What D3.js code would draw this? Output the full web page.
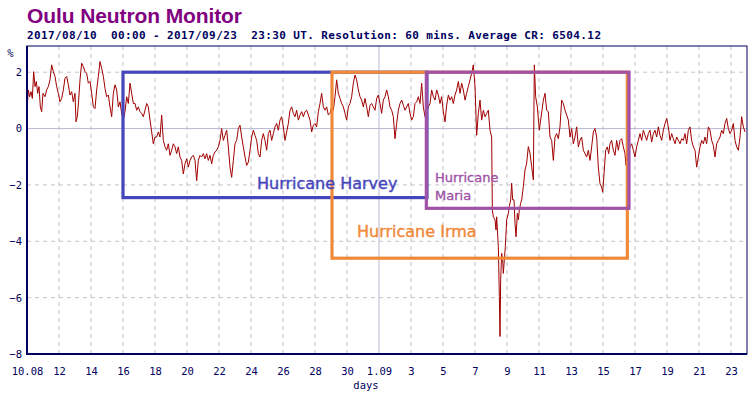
<!DOCTYPE html>
<html>
<head>
<meta charset="utf-8">
<script src="https://cdnjs.cloudflare.com/ajax/libs/d3/7.8.5/d3.min.js"></script>
<style>
  body { margin: 0; background: #fff; }
  svg { display: block; }
</style>
</head>
<body>
<div id="chart"></div>
<script>
// Oulu neutron monitor, relative CR variation (%), hours after 2017-08-10 00:00 UT
var crSeries = [
  [0,0.65],[2,1.37],[4,1.13],[6,1.31],[8,1.07],[10,2.02],[12,1.49],[14,1.67],[16,1.25],[18,1.49],
  [20,0.77],[22,0.6],[24,1.25],[27,1.13],[29.5,1.37],[32,1.49],[34.5,1.73],[37,2.26],[39.5,2.02],[42,1.85],
  [44.5,1.49],[47,1.25],[49.5,0.95],[52,1.07],[54.5,1.37],[57,1.79],[59.5,1.85],[62,1.55],[64.5,1.19],[67,1.31],
  [69.5,0.95],[72,1.25],[73.5,0.24],[75.5,0.42],[77.5,1.01],[79.5,1.73],[82,2.32],[84.5,2.2],[87,2.02],[89.5,1.96],
  [92,1.61],[94.5,1.67],[97,1.25],[99.5,0.77],[102,0.71],[104.5,1.37],[107,1.85],[109.5,2.38],[112,2.14],[114.5,1.85],
  [117,1.43],[119.5,1.13],[122,1.19],[124.5,0.77],[127,0.42],[129.5,1.25],[132,1.55],[134.5,1.37],[137,0.77],[139.5,0.95],
  [142,0.54],[144.5,0.3],[147,0.6],[149.5,1.13],[152,0.89],[154.5,1.61],[157,1.25],[159.5,0.89],[162,0.89],[164.5,0.65],
  [167,0.77],[169.5,0.6],[172,0.54],[174.5,0.42],[177,0.65],[179.5,0.89],[182,0.77],[184.5,0.3],[187,-0.12],[189.5,-0.54],
  [192,-0.3],[194.5,-0.3],[197,-0.12],[199.5,-0.3],[202,0.48],[204.5,-0.42],[207,-0.65],[209.5,-0.77],[212,-0.54],[214.5,-0.95],
  [217,-0.77],[219.5,-0.54],[222,-0.65],[224.5,-0.89],[227,-0.65],[229.5,-1.01],[232,-1.13],[234.5,-1.61],[237,-1.25],[239.5,-1.07],
  [242,-1.37],[244.5,-1.13],[247,-1.01],[249.5,-0.95],[252,-1.13],[254.5,-1.85],[257,-1.13],[259.5,-0.95],[262,-1.01],[264.5,-0.89],
  [267,-1.07],[269.5,-0.89],[272,-1.13],[274.5,-0.95],[277,-1.25],[279.5,-0.95],[282,-0.83],[284.5,-0.77],[287,-0.65],[289.5,-0.42],
  [292,0],[294.5,-0.42],[297,-0.24],[299.5,-0.06],[302,-0.65],[304.5,-1.37],[307,-1.73],[309.5,-1.13],[312,-0.54],[314.5,-0.42],
  [317,0],[319.5,0.12],[322,-0.3],[324.5,-0.65],[327,-1.01],[329.5,-1.31],[332,-1.19],[334.5,-0.77],[337,-0.3],[339.5,-0.06],
  [342,-0.24],[344.5,-0.42],[347,-0.89],[349.5,-1.01],[352,-0.42],[354.5,-0.18],[357,-0.42],[359.5,-0.77],[362,-0.18],[364.5,-0.06],
  [367,-0.42],[369.5,-0.18],[372,0.06],[374.5,0.18],[377,-0.06],[379.5,0.3],[382,0.42],[384.5,0.06],[387,-0.42],[389.5,-0.12],
  [392,0.18],[394.5,0.65],[397,0.77],[399.5,0.54],[402,0.42],[404.5,0.65],[407,0.3],[409.5,0.48],[412,0.6],[414.5,0.42],
  [417,0.6],[419.5,0.65],[422,0.48],[424.5,0.3],[427,-0.12],[429.5,0.12],[432,0.18],[434.5,0.06],[437,0.6],[439.5,0.89],
  [442,1.25],[444.5,0.77],[447,0.65],[449.5,0.77],[452,0.48],[454.5,0.54],[457,0.77],[459.5,0.65],[462,1.13],[464.5,1.73],
  [467,1.25],[469.5,1.07],[472,0.89],[474.5,0.77],[477,0.54],[479.5,0.3],[482,0.77],[484.5,0.89],[487,1.13],[489.5,1.61],
  [492,1.9],[494.5,1.73],[497,1.37],[499.5,1.13],[502,1.01],[504.5,0.77],[507,1.07],[509.5,0.77],[512,0.42],[514.5,0.83],
  [517,0.89],[519.5,0.77],[522,0.65],[524.5,1.07],[527,1.19],[529.5,0.89],[532,0.54],[534.5,1.01],[537,1.13],[539.5,1.37],
  [542,1.13],[544.5,0.77],[547,0.65],[549.5,0.42],[552,-0.36],[554.5,0.18],[557,0.65],[559.5,0.89],[562,1.01],[564.5,0.83],
  [567,0.65],[569.5,0.77],[572,0.89],[574.5,0.54],[577,0.3],[579.5,0.42],[582,0.89],[584.5,0.95],[587,1.13],[589.5,0.89],
  [592,1.61],[594.5,0.77],[597,0.42],[599.5,0.54],[602,0.77],[604.5,0.89],[607,1.37],[609.5,1.13],[612,1.01],[614.5,1.37],
  [617,1.19],[619.5,0.89],[622,1.13],[624.5,0.6],[627,0.24],[629.5,0.83],[632,1.19],[634.5,1.01],[637,1.13],[639.5,0.89],
  [642,1.19],[644.5,1.37],[647,1.67],[649.5,1.25],[652,1.61],[654.5,1.37],[657,1.01],[659.5,1.25],[662,1.49],[664.5,1.73],
  [667,1.96],[669.5,2.26],[672,1.49],[674.5,-0.24],[677,0.54],[679.5,1.01],[682,0.3],[684.5,0.65],[687,0.42],[689.5,0.54],
  [692,0.65],[694.5,-0.06],[697,-0.3],[698,-2.89],[699.5,-3.13],[702,-3.24],[703.5,-3.6],[704.5,-3.13],[707,-4.19],[708.5,-5.96],
  [709.5,-7.38],[710.5,-5.37],[712,-4.43],[713.5,-4.66],[714.5,-5.14],[716,-4.66],[717.5,-4.19],[719.5,-3.24],[722,-3.01],[723.5,-2.77],
  [725.5,-2.53],[727,-1.94],[728.5,-2.53],[730.5,-2.53],[732,-3.36],[733.5,-3.84],[735.5,-3.01],[737,-3.24],[738.5,-2.89],[740.5,-2.65],
  [742,-2.53],[744.5,-2.06],[747,-1.47],[749.5,-1.23],[752,-0.64],[754.5,-0.88],[757,-1.35],[759.5,-1.82],[761,2.26],[763,1.13],
  [765.5,0.77],[768.5,-0.06],[770.5,0.3],[772.5,0.65],[774.5,1.01],[777,1.25],[779.5,0.65],[782,0.6],[784.5,-0.3],[787,-0.42],
  [789.5,-1.13],[792,-0.3],[794.5,-0.18],[797,-0.36],[799.5,0.06],[802,1.01],[804.5,0.89],[807,0.65],[809.5,0.48],[812,0.3],
  [814.5,-0.3],[817,0],[819.5,-0.54],[822,-0.3],[824.5,0.06],[827,-0.65],[829.5,-0.42],[832,-0.3],[834.5,-0.77],[837,-0.89],
  [839.5,-1.01],[842,-0.77],[844.5,-1.13],[847,-0.65],[849.5,-0.12],[852,0],[854.5,-0.3],[857,-1.37],[859.5,-1.96],[862,-2.08],
  [863.5,-2.26],[865.5,-1.61],[868,-0.77],[870.5,-0.65],[872.5,-0.89],[874.5,-0.54],[877,-0.42],[879.5,-0.77],[882,-0.95],[884.5,-0.42],
  [887,-0.77],[889.5,-0.42],[892,-0.36],[894.5,-0.65],[897,-0.89],[898.5,-1.31],[900.5,-0.89],[904.5,-0.65],[907,-0.54],[909.5,-0.77],
  [912,-1.01],[914.5,-0.65],[917,-0.42],[919.5,-0.18],[922,-0.42],[924.5,-0.06],[927,-0.24],[929.5,-0.42],[932,-0.18],[934.5,-0.06],
  [937,-0.48],[939.5,-0.18],[942,-0.06],[944.5,-0.3],[947,0.06],[949.5,-0.24],[952,-0.42],[954.5,-0.06],[957,0.18],[959.5,0.36],
  [962,0.06],[964.5,-0.42],[967,-0.18],[969.5,-0.36],[972,-0.54],[974.5,-0.3],[977,-0.42],[979.5,-0.54],[982,-0.36],[984.5,-0.42],
  [987,-0.18],[989.5,-0.54],[992,-0.06],[994.5,0.06],[997,-0.42],[999.5,-0.65],[1002,-0.77],[1004.5,-1.37],[1007,-1.01],[1009.5,-0.65],
  [1012,-0.42],[1014.5,-0.54],[1017,-0.3],[1019.5,-0.54],[1022,0.06],[1024.5,-0.06],[1027,-0.42],[1029.5,-0.6],[1032,-1.01],[1034.5,-0.54],
  [1037,-0.42],[1039.5,-0.3],[1042,-0.06],[1044.5,-0.18],[1047,0.18],[1049.5,0.36],[1052,0],[1054.5,-0.18],[1057,-0.06],[1059.5,0.18],
  [1062,-0.42],[1064.5,-0.65],[1067,-0.77],[1069.5,-0.3],[1072,0.42],[1074.5,0.06],[1077,-0.12]
];

var yTicks = [-8, -6, -4, -2, 0, 2];
var dayTicks = d3.range(0, 45, 2);   // tick every 2 days from 10.08

// hurricane boxes: start/end in hours after start, top/bottom in %
var stormNames = ["Hurricane Harvey", "Hurricane Irma", "Hurricane Maria"];
var stormStart = [144, 457.5, 599];
var stormEnd = [600, 900.5, 903];
var stormTop = [2, 2, 2];
var stormBottom = [-2.45, -4.6, -2.83];

var svgWidth = 756;
var svgHeight = 399;
var margin = {top: 46, right: 9, bottom: 45, left: 27};
var width = svgWidth - margin.left - margin.right;
var height = svgHeight - margin.top - margin.bottom;

var start = new Date(Date.UTC(2017, 7, 10));
var end = new Date(Date.UTC(2017, 8, 24));
function atHour(h) { return new Date(start.getTime() + h * 3600e3); }

var svg = d3.select("#chart")
  .append("svg")
  .attr("width", svgWidth)
  .attr("height", svgHeight);

var chartGroup = svg.append("g")
  .attr("transform", `translate(${margin.left}, ${margin.top})`);

var x = d3.scaleUtc().domain([start, end]).range([0, width]);
var y = d3.scaleLinear().domain([-8, 2.93]).range([height, 0]);

var navy = "#000060";
var gridColor = "#c4c4cc";

// title + subtitle
svg.append("text")
  .attr("x", 27).attr("y", 23)
  .attr("font-family", "Liberation Sans, Arial, sans-serif")
  .attr("font-weight", "bold")
  .attr("font-size", 21)
  .attr("textLength", 215)
  .attr("fill", "#800080")
  .text("Oulu Neutron Monitor");

svg.append("text")
  .attr("x", 27).attr("y", 38.5)
  .attr("font-family", "DejaVu Sans Mono, monospace")
  .attr("font-weight", "bold")
  .attr("font-size", 11)
  .attr("textLength", 574)
  .attr("lengthAdjust", "spacing")
  .style("white-space", "pre")
  .attr("fill", navy)
  .text("2017/08/10  00:00 - 2017/09/23  23:30 UT. Resolution: 60 mins. Average CR: 6504.12");

// grid
var tickDates = dayTicks.map(d => d3.utcDay.offset(start, d));
chartGroup.append("g")
  .selectAll("line")
  .data(tickDates)
  .enter()
  .append("line")
  .attr("x1", d => x(d)).attr("x2", d => x(d))
  .attr("y1", 0).attr("y2", height)
  .attr("stroke", d => d.getUTCDate() === 1 ? "#b8b8d4" : gridColor)
  .attr("stroke-dasharray", d => d.getUTCDate() === 1 ? null : "4,4");

chartGroup.append("g")
  .selectAll("line")
  .data(yTicks)
  .enter()
  .append("line")
  .attr("x1", 0).attr("x2", width)
  .attr("y1", d => y(d)).attr("y2", d => y(d))
  .attr("stroke", d => d === 0 ? "#b8b8d4" : gridColor)
  .attr("stroke-dasharray", d => d === 0 ? null : "4,4");

// data line
var line = d3.line()
  .x(d => x(atHour(d[0])))
  .y(d => y(d[1]));

chartGroup.append("path")
  .datum(crSeries)
  .attr("d", line)
  .attr("fill", "none")
  .attr("stroke", "#a00000")
  .attr("stroke-width", 1);

// hurricane boxes
var boxColors = ["#4646bc", "#f08a3a", "#a052a6"];
stormNames.forEach(function (name, i) {
  var x0 = x(atHour(stormStart[i])), x1 = x(atHour(stormEnd[i]));
  var y0 = y(stormTop[i]), y1 = y(stormBottom[i]);
  chartGroup.append("rect")
    .attr("x", x0).attr("y", y0)
    .attr("width", x1 - x0).attr("height", y1 - y0)
    .attr("fill", "none")
    .attr("stroke", boxColors[i])
    .attr("stroke-width", 3.2);
});

var labelFont = "DejaVu Sans, Verdana, sans-serif";
chartGroup.append("text")
  .attr("x", x(atHour(345))).attr("y", y(-2.14))
  .attr("font-family", labelFont).attr("font-size", 16)
  .attr("fill", boxColors[0]).attr("stroke", boxColors[0]).attr("stroke-width", 0.4)
  .text(stormNames[0]);

chartGroup.append("text")
  .attr("x", x(atHour(495))).attr("y", y(-3.86))
  .attr("font-family", labelFont).attr("font-size", 16)
  .attr("fill", boxColors[1]).attr("stroke", boxColors[1]).attr("stroke-width", 0.4)
  .text(stormNames[1]);

var maria = stormNames[2].split(" ");
maria.forEach(function (word, i) {
  chartGroup.append("text")
    .attr("x", x(atHour(612))).attr("y", y(-1.88) + i * 18.3)
    .attr("font-family", labelFont).attr("font-size", 13)
    .attr("fill", boxColors[2]).attr("stroke", boxColors[2]).attr("stroke-width", 0.35)
    .text(word);
});

// frame
chartGroup.append("rect")
  .attr("x", 0).attr("y", 0)
  .attr("width", width).attr("height", height)
  .attr("fill", "none")
  .attr("stroke", navy)
  .attr("stroke-width", 1);
chartGroup.append("path")
  .attr("d", `M0,0V${height}H${width}`)
  .attr("fill", "none")
  .attr("stroke", navy)
  .attr("stroke-width", 2);

// axes (labels only)
var fmt = d3.utcFormat("%-d");
var bottomAxis = d3.axisBottom(x)
  .tickValues(tickDates)
  .tickSize(0)
  .tickPadding(0)
  .tickFormat((d, i) => (i === 0 || d.getUTCDate() === 1) ? d3.utcFormat(i === 0 ? "%d.%m" : "%-d.%m")(d) : fmt(d));

var leftAxis = d3.axisLeft(y)
  .tickValues(yTicks)
  .tickSize(0)
  .tickPadding(5);

var xAxis = chartGroup.append("g")
  .attr("transform", `translate(0, ${height})`)
  .call(bottomAxis);
xAxis.select(".domain").remove();
xAxis.selectAll("text")
  .attr("y", 21)
  .attr("dy", 0)
  .attr("fill", navy)
  .attr("font-family", "DejaVu Sans Mono, monospace")
  .attr("font-size", 10.5);

var yAxis = chartGroup.append("g").call(leftAxis);
yAxis.select(".domain").remove();
yAxis.selectAll("text")
  .attr("fill", navy)
  .attr("font-family", "DejaVu Sans Mono, monospace")
  .attr("font-size", 10.5);

svg.append("text")
  .attr("x", 10.5).attr("y", 57)
  .attr("text-anchor", "middle")
  .attr("font-family", "DejaVu Sans Mono, monospace")
  .attr("font-size", 10.5)
  .attr("fill", navy)
  .text("%");

svg.append("text")
  .attr("x", 366).attr("y", 389)
  .attr("text-anchor", "middle")
  .attr("font-family", "DejaVu Sans Mono, monospace")
  .attr("font-size", 10.5)
  .attr("fill", navy)
  .text("days");
</script>
</body>
</html>
